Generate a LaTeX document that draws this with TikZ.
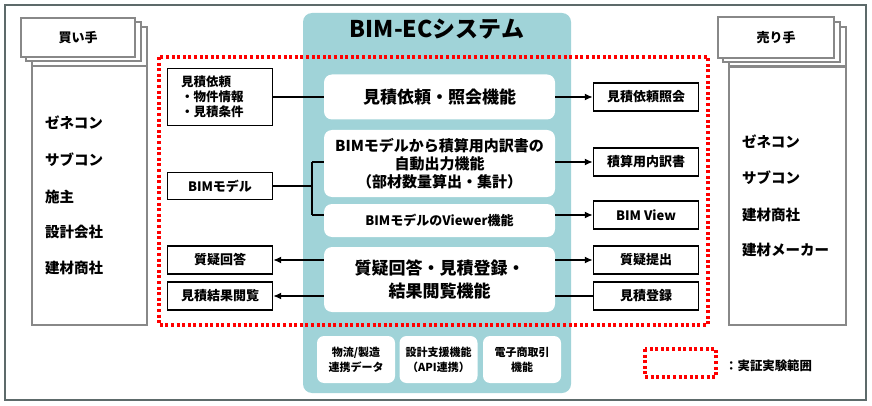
\documentclass[tikz,border=0pt]{standalone}
\usepackage{fontspec}
\setmainfont{Noto Sans CJK JP}
\usetikzlibrary{arrows.meta}
\definecolor{tealC}{RGB}{160,211,216}
\definecolor{frameC}{RGB}{93,106,106}
\definecolor{cardC}{RGB}{136,136,136}
\definecolor{redC}{RGB}{255,0,0}
\newcommand{\fsz}[2]{\fontsize{#1}{#2}\selectfont}
\begin{document}
\begin{tikzpicture}[x=1pt,y=-1pt,
  obox/.style={draw=black, line width=1.3pt, fill=white, minimum width=105pt, minimum height=28pt, inner sep=0pt, font=\bfseries\fsz{13}{15}},
  fbox/.style={fill=white, rounded corners=8pt, minimum width=231pt, inner sep=0pt, align=center, font=\bfseries},
  sbox/.style={fill=white, rounded corners=7pt, minimum width=78pt, minimum height=47pt, inner sep=0pt, align=center, font=\bfseries\fsz{11}{15}},
  card/.style={draw=cardC, line width=1.5pt, fill=white},
  listtxt/.style={anchor=west, inner sep=0pt, font=\bfseries\fsz{14.5}{16}},
  conn/.style={line width=1.7pt},
  arr/.style={conn, -{Latex[length=8pt,width=7pt]}},
  reddot/.style={draw=redC, line width=3.5pt, dash pattern=on 3pt off 2.6pt},
]
\useasboundingbox (0,0) rectangle (872,406);
\draw[frameC, line width=2.5pt] (5,5) rectangle (866,400);

% buyer
\draw[card] (32,27) rectangle (147,66);
\draw[card] (26,22) rectangle (141,61);
\node[card, minimum width=114pt, minimum height=39pt, font=\bfseries\fsz{13}{15}] (buyer) at (78,37.5) {買い手};
\node[card, minimum width=115pt, minimum height=259pt] (blist) at (89.5,195.5) {};
\node[listtxt] (b1) at (45,123) {ゼネコン};
\node[listtxt] (b2) at (45,160) {サブコン};
\node[listtxt] (b3) at (45,197) {施主};
\node[listtxt] (b4) at (45,232) {設計会社};
\node[listtxt] (b5) at (45,268) {建材商社};

% seller
\draw[card] (729,27) rectangle (846,66);
\draw[card] (723,22) rectangle (840,62);
\node[card, minimum width=116pt, minimum height=41pt, font=\bfseries\fsz{13}{15}] (seller) at (776,37.5) {売り手};
\node[card, minimum width=117pt, minimum height=258pt] (slist) at (787.5,196) {};
\node[listtxt] (s1) at (742,142) {ゼネコン};
\node[listtxt] (s2) at (742,178) {サブコン};
\node[listtxt] (s3) at (742,215) {建材商社};
\node[listtxt] (s4) at (742,250) {建材メーカー};

% panel
\fill[tealC, rounded corners=9pt] (303,13) rectangle (571,393);
\node[font=\bfseries\fsz{23}{25}, inner sep=0pt] (title) at (437,29) {BIM-ECシステム};

% red range
\draw[reddot] (159,57) rectangle (708,325);

% center boxes
\node[fbox, minimum height=45pt, font=\bfseries\fsz{17}{20}] (f1) at (439.5,97) {見積依頼・照会機能};
\node[fbox, minimum height=67pt, font=\bfseries\fsz{15}{18}] (f2) at (439.5,163.5) {BIMモデルから積算用内訳書の\\自動出力機能\\（部材数量算出・集計）};
\node[fbox, minimum height=33pt, font=\bfseries\fsz{13}{15}] (f3) at (439.5,220.5) {BIMモデルのViewer機能};
\node[fbox, minimum height=65pt, font=\bfseries\fsz{17}{23}] (f4) at (439.5,279.5) {質疑回答・見積登録・\\結果閲覧機能};
\node[sbox] (g1) at (356,359.5) {物流/製造\\連携データ};
\node[sbox] (g2) at (438.5,359.5) {設計支援機能\\（API連携）};
\node[sbox] (g3) at (522,359.5) {電子商取引\\機能};

% left boxes
\node[obox, minimum height=57pt, text width=78pt, align=left, font=\bfseries\fsz{12.5}{15}] (req) at (220,97) {見積依頼\\・物件情報\\・見積条件};
\node[obox, minimum height=27pt] (bim) at (220,186) {BIMモデル};
\node[obox] (qa) at (220,260) {質疑回答};
\node[obox] (view) at (220,296) {見積結果閲覧};

% right boxes
\node[obox] (inq) at (646,97) {見積依頼照会};
\node[obox] (est) at (646,162) {積算用内訳書};
\node[obox] (bv) at (646,215) {BIM View};
\node[obox] (ask) at (646,260) {質疑提出};
\node[obox] (reg) at (646,296) {見積登録};

% connectors
\draw[conn] (req.east) -- (f1.west |- req.east);
\draw[arr] (f1.east) -- (inq.west |- f1.east);
\coordinate (j) at (312,186);
\draw[conn] (bim.east) -- (j);
\draw[conn] (j |- est.west) -- (j |- bv.west);
\draw[conn] (j |- est.west) -- (f2.west |- est.west);
\draw[conn] (j |- bv.west) -- (f3.west |- bv.west);
\draw[arr] (f2.east |- est.west) -- (est.west);
\draw[arr] (f3.east |- bv.west) -- (bv.west);
\draw[arr] (f4.west |- qa.east) -- (qa.east);
\draw[arr] (f4.west |- view.east) -- (view.east);
\draw[arr] (f4.east |- ask.west) -- (ask.west);
\draw[conn] (reg.west) -- (f4.east |- reg.west);

% legend
\draw[reddot] (645,349) rectangle (716,377);
\node[anchor=west, inner sep=0pt, font=\bfseries\fsz{12.4}{14}] (leg) at (725,366) {：実証実験範囲};
\end{tikzpicture}
\end{document}
